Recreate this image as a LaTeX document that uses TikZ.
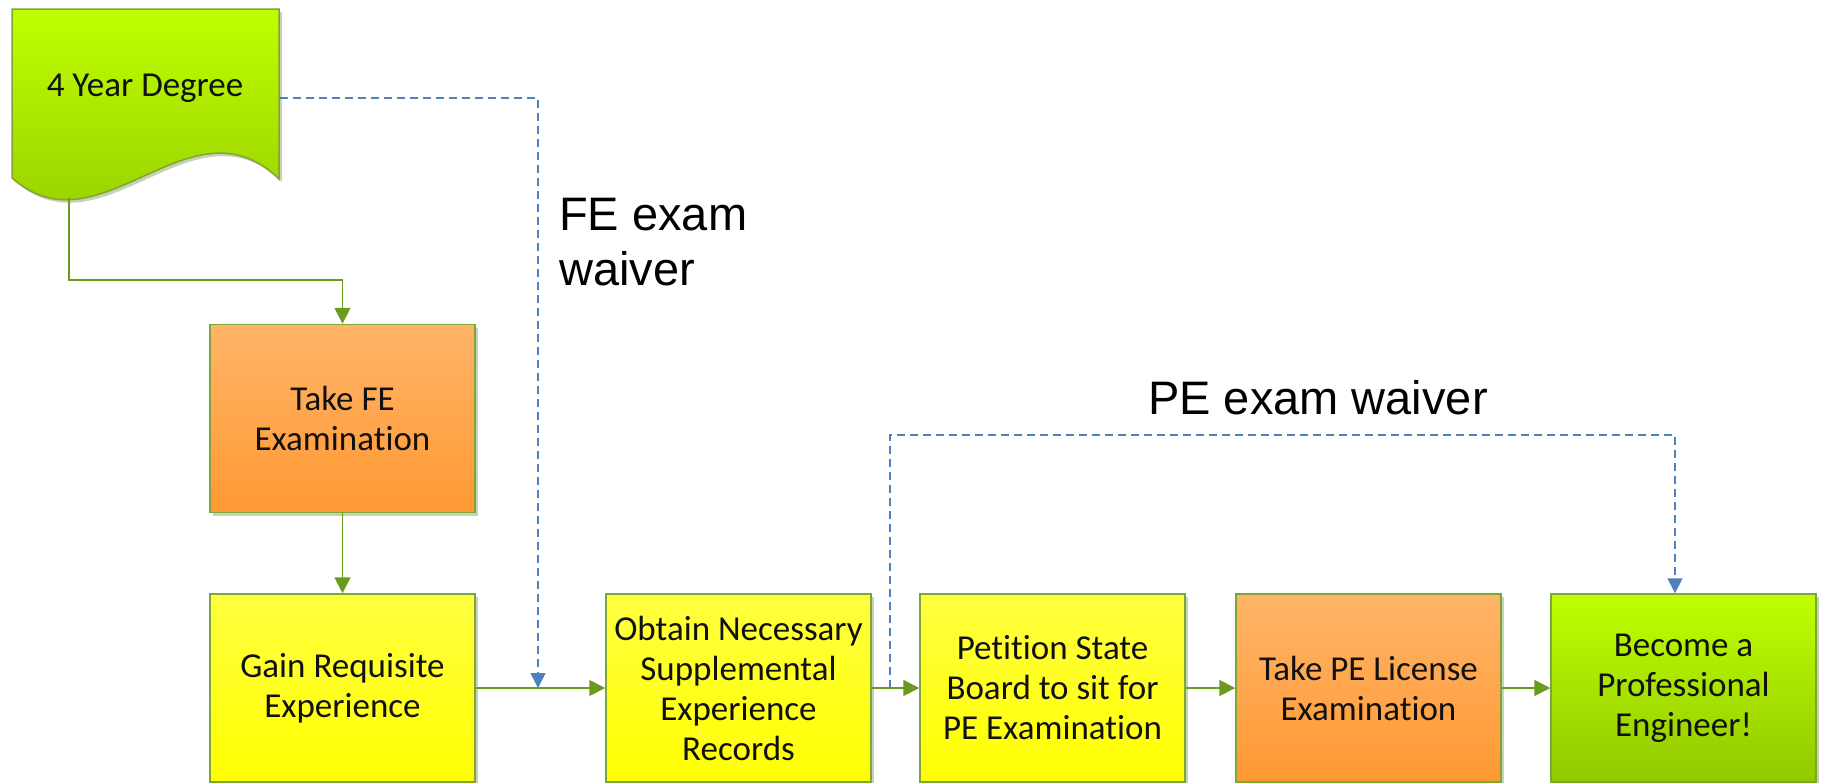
\documentclass[tikz,border=0pt]{standalone}
\usepackage{fontspec}
\setmainfont{Carlito}[Ligatures=CommonOff]
\newfontfamily\arialf{Liberation Sans}
\usetikzlibrary{arrows.meta,shadows}
\definecolor{gtop}{HTML}{C0FF00}
\definecolor{gbot}{HTML}{92C800}
\definecolor{otop}{HTML}{FFB468}
\definecolor{obot}{HTML}{FF9933}
\definecolor{ytop}{HTML}{FFFF40}
\definecolor{ybot}{HTML}{FFFF00}
\definecolor{boxline}{HTML}{7DA634}
\definecolor{flowc}{HTML}{6B9A1E}
\definecolor{waivc}{HTML}{4F81BD}
\definecolor{shadowc}{HTML}{C8D2B8}
\definecolor{txt}{HTML}{111111}
\begin{document}
\begin{tikzpicture}[x=1pt,y=-1pt,
  shadowed/.style={drop shadow={shadow xshift=3pt,shadow yshift=-3pt,fill=shadowc,opacity=1}},
  box/.style={draw=boxline, line width=1.5pt, minimum width=265pt, minimum height=188pt,
    inner sep=0pt, align=center, font=\fontsize{35}{40}\selectfont, text=txt, shadowed},
  greenbox/.style={box, top color=gtop, bottom color=gbot},
  orangebox/.style={box, top color=otop, bottom color=obot},
  yellowbox/.style={box, top color=ytop, bottom color=ybot},
  flow/.style={draw=flowc, line width=1.8pt, -{Triangle[length=16pt,width=16pt]}},
  waiver/.style={draw=waivc, line width=1.6pt, dash pattern=on 8pt off 5pt, -{Triangle[length=15pt,width=15pt]}},
  lbl/.style={font=\arialf\fontsize{47}{55}\selectfont, text=black, inner sep=0pt, anchor=base west}
]
\useasboundingbox (0,0) rectangle (1822,782);
% document shape
\path[draw=boxline, line width=1.5pt, top color=gtop, bottom color=gbot, shadowed]
  (12,9) -- (279,9) -- (279,179) .. controls (190,93) and (100,256) .. (12,178) -- cycle;
\node[inner sep=0pt, minimum width=265pt, minimum height=158pt, font=\fontsize{35}{40}\selectfont, text=txt] (deg) at (145,88) {4 Year Degree};
\coordinate (degbot) at (69,198);
\coordinate (degright) at (280,98);

\node[orangebox] (takefe) at (342.5,418.5) {Take FE\\Examination};
\node[yellowbox] (gain) at (342.5,688) {Gain Requisite\\Experience};
\node[yellowbox] (obtain) at (738.5,688) {Obtain Necessary\\Supplemental\\Experience\\Records};
\node[yellowbox] (petition) at (1052.5,688) {Petition State\\Board to sit for\\PE Examination};
\node[orangebox] (takepe) at (1368.5,688) {Take PE License\\Examination};
\node[greenbox] (become) at (1683.5,688) {Become a\\Professional\\Engineer!};

\coordinate (fejoin) at (538,688);
\coordinate (pestart) at (890,688);

\draw[flow] (degbot) |- ([yshift=44pt]takefe.north) -- (takefe.north);
\draw[flow] (takefe.south) -- (gain.north);
\draw[flow] (gain.east) -- (obtain.west);
\draw[flow] (obtain.east) -- (petition.west);
\draw[flow] (petition.east) -- (takepe.west);
\draw[flow] (takepe.east) -- (become.west);

\draw[waiver] (degright) -| (fejoin);
\draw[waiver] (pestart) |- (1675,435) -- ([xshift=-8.5pt]become.north);

\node[lbl] (felbl) at (559,230) {FE exam};
\node[lbl] (felbl2) at (559,285) {waiver};
\node[lbl] (pelbl) at (1148,414) {PE exam waiver};
\end{tikzpicture}
\end{document}
